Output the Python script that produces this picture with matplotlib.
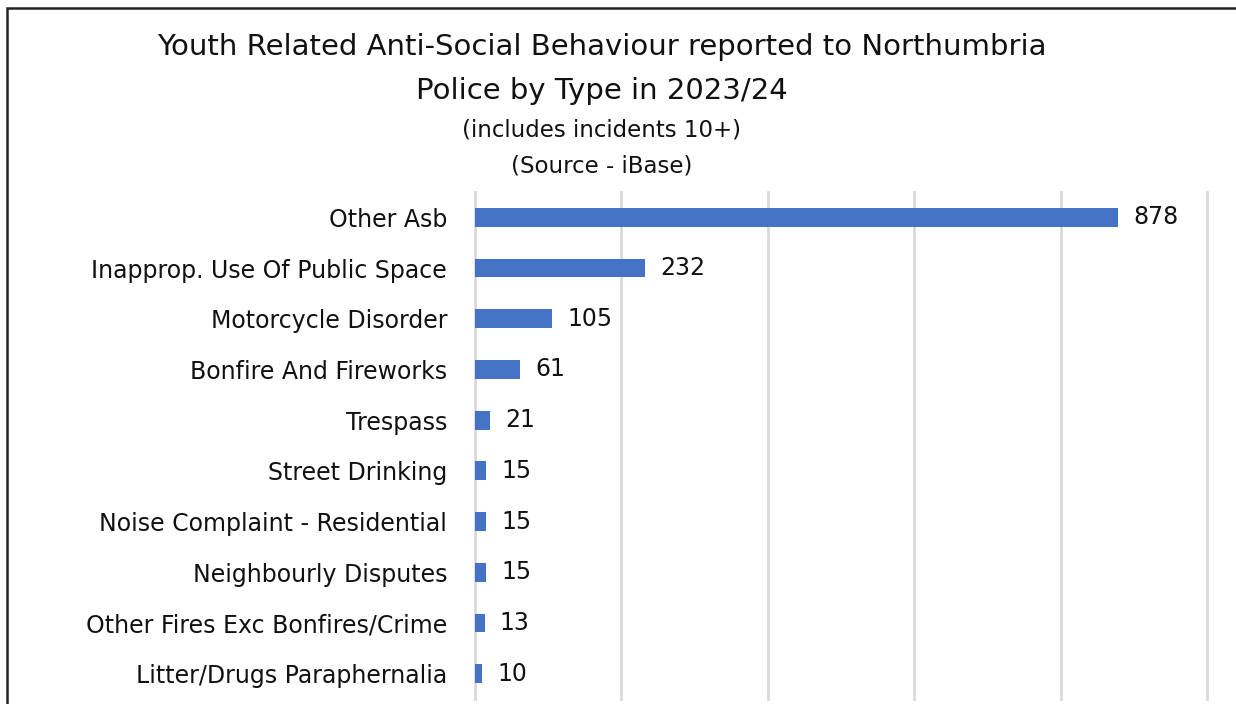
import matplotlib.pyplot as plt
from matplotlib.patches import Rectangle

categories = ["Other Asb", "Inapprop. Use Of Public Space", "Motorcycle Disorder",
              "Bonfire And Fireworks", "Trespass", "Street Drinking",
              "Noise Complaint - Residential", "Neighbourly Disputes",
              "Other Fires Exc Bonfires/Crime", "Litter/Drugs Paraphernalia"]
counts = [878, 232, 105, 61, 21, 15, 15, 15, 13, 10]

plt.rcParams['font.family'] = ['DejaVu Sans']

fig = plt.figure(figsize=(12.36, 7.04), dpi=100)
ax = fig.add_axes([475 / 1236, 1 - 699 / 704, (1207 - 475) / 1236, (699 - 192) / 704])

y = list(range(len(categories)))
ax.barh(y, counts, height=0.37, color="#4472c4", zorder=2)
ax.set_ylim(len(categories) - 0.5, -0.5)
ax.set_xlim(0, 1000)
ax.set_xticks([0, 200, 400, 600, 800, 1000])
ax.set_xticklabels([])
ax.set_yticks(y)
ax.set_yticklabels(categories, fontsize=17, color="#111111")
ax.tick_params(axis='both', length=0, pad=20)
ax.grid(axis='x', color="#d9d9d9", linewidth=2, zorder=0)
for gl in ax.get_xgridlines():
    gl.set_clip_on(False)
for s in ax.spines.values():
    s.set_visible(False)

for yi, v in zip(y, counts):
    ax.annotate(str(v), (v, yi), xytext=(11, 0), textcoords="offset points",
                va="center", ha="left", fontsize=17, color="#111111")

fig.text(602 / 1236, 1 - 47 / 704, "Youth Related Anti-Social Behaviour reported to Northumbria",
         ha="center", va="center", fontsize=21, color="#111111")
fig.text(602 / 1236, 1 - 91 / 704, "Police by Type in 2023/24",
         ha="center", va="center", fontsize=21, color="#111111")
fig.text(602 / 1236, 1 - 130 / 704, "(includes incidents 10+)",
         ha="center", va="center", fontsize=16.5, color="#111111")
fig.text(602 / 1236, 1 - 166 / 704, "(Source - iBase)",
         ha="center", va="center", fontsize=16.5, color="#111111")

# border (right/bottom edges fall outside the image)
fig.patches.append(Rectangle((7 / 1236, -0.1), 1.1, 1.1 - 8 / 704,
                             transform=fig.transFigure, fill=False,
                             edgecolor="#222222", linewidth=1.8))

fig.savefig("out.png", dpi=100)
